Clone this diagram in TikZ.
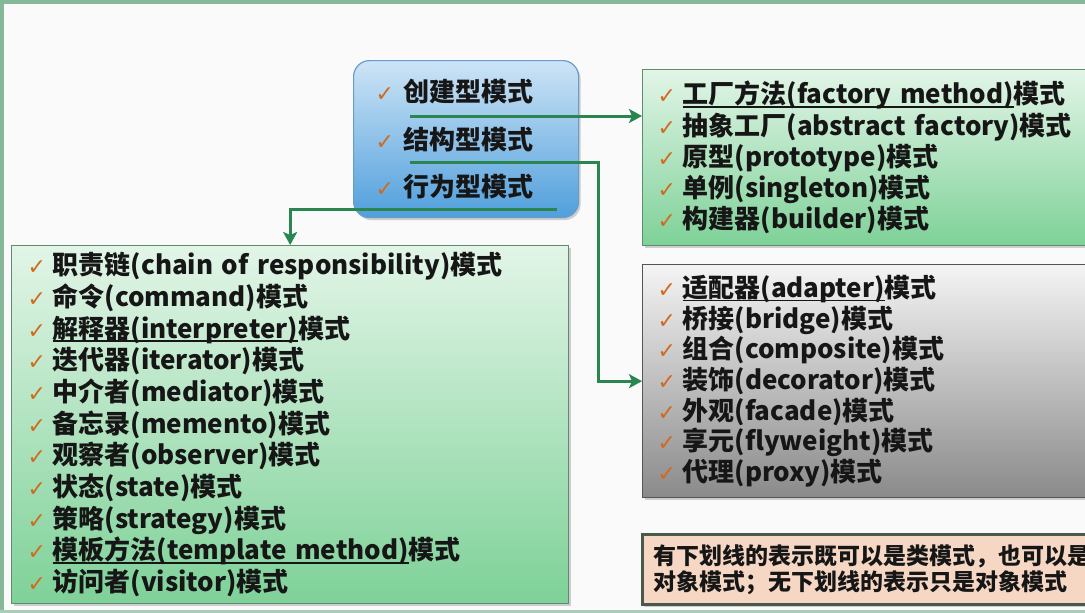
\documentclass[tikz,border=0pt]{standalone}
\usepackage{fontspec}
\usetikzlibrary{arrows.meta,shadows}
\newfontfamily\cjk{Noto Sans CJK SC}
\newfontfamily\dejavu{DejaVu Sans}
\definecolor{bgc}{HTML}{FAFAFA}
\definecolor{frameg}{HTML}{85B898}
\definecolor{txtc}{HTML}{161616}
\definecolor{chkc}{HTML}{D2691E}
\definecolor{arrowc}{HTML}{2A8550}
\definecolor{bluetop}{HTML}{CDE4F6}
\definecolor{bluebot}{HTML}{509FDC}
\definecolor{blueline}{HTML}{6A9CCB}
\definecolor{greentop}{HTML}{E2F5E7}
\definecolor{greenbot}{HTML}{7ED198}
\definecolor{greenline}{HTML}{5E8C6E}
\definecolor{graytop}{HTML}{F4F4F4}
\definecolor{graybot}{HTML}{8A8A8A}
\definecolor{grayline}{HTML}{555555}
\definecolor{notefill}{HTML}{F6D7C4}
\definecolor{noteline}{HTML}{4A5A4A}
\newcommand\chk[1][25pt]{\makebox[#1][l]{\dejavu\mdseries\fontsize{22}{22}\selectfont\textcolor{chkc}{✓}}}
\newcommand\myul[1]{\setbox0\hbox{#1}\rlap{\rule[-3.8pt]{\wd0}{1.4pt}}\box0}
\begin{document}
\begin{tikzpicture}[x=1pt,y=-1pt,
  boxbase/.style={anchor=north west, align=left, text=txtc, inner ysep=0pt,
    drop shadow={shadow xshift=2pt, shadow yshift=-2.5pt, opacity=0.3, fill=black!60}},
  bluebox/.style={boxbase, rounded corners=16pt, draw=blueline, line width=1.2pt,
    top color=bluetop, bottom color=bluebot, inner xsep=22pt,
    font={\cjk\bfseries\fontsize{26}{47.5}\selectfont}},
  greenbox/.style={boxbase, draw=greenline, line width=1.3pt,
    top color=greentop, bottom color=greenbot, inner xsep=15pt,
    font={\cjk\bfseries\fontsize{26}{31.3}\selectfont}},
  graybox/.style={boxbase, draw=grayline, line width=1.3pt,
    top color=graytop, bottom color=graybot, inner xsep=15pt,
    font={\cjk\bfseries\fontsize{26}{30.7}\selectfont}},
  notebox/.style={boxbase, draw=noteline, line width=2.5pt, fill=notefill,
    inner xsep=11pt, font={\cjk\bfseries\fontsize{23}{26}\selectfont}},
  conn/.style={draw=arrowc, line width=3pt, -{Stealth[length=13pt,width=14pt,inset=3pt]}}
]
\clip (0,0) rectangle (1085,613);
\fill[bgc] (0,0) rectangle (1085,613);
\fill[frameg] (0,0) rectangle (1085,3.5);
\fill[frameg] (0,0) rectangle (3.5,613);
\fill[frameg!70] (0,610) rectangle (1085,613);

% category box
\node[bluebox, minimum width=225pt, minimum height=157pt, text width=181pt] (kinds) at (353,60)
  {\mbox{\chk[28pt]创建型模式}\\\mbox{\chk[28pt]结构型模式}\\\mbox{\chk[28pt]行为型模式}};

% creational
\node[greenbox, minimum height=176pt, text width=440pt] (create) at (642,69)
  {\mbox{\chk\myul{工厂方法(factory method)}模式}\\
   \mbox{\chk 抽象工厂(abstract factory)模式}\\
   \mbox{\chk 原型(prototype)模式}\\
   \mbox{\chk 单例(singleton)模式}\\
   \mbox{\chk 构建器(builder)模式}};

% structural
\node[graybox, minimum height=233pt, text width=440pt] (struct) at (642,264)
  {\mbox{\chk\myul{适配器(adapter)}模式}\\
   \mbox{\chk 桥接(bridge)模式}\\
   \mbox{\chk 组合(composite)模式}\\
   \mbox{\chk 装饰(decorator)模式}\\
   \mbox{\chk 外观(facade)模式}\\
   \mbox{\chk 享元(flyweight)模式}\\
   \mbox{\chk 代理(proxy)模式}};

% behavioural
\node[greenbox, font={\cjk\bfseries\fontsize{26}{31.7}\selectfont}, minimum height=358pt, text width=525pt, inner xsep=16pt] (behav) at (11,245)
  {\mbox{\chk 职责链(chain of responsibility)模式}\\
   \mbox{\chk 命令(command)模式}\\
   \mbox{\chk\myul{解释器(interpreter)}模式}\\
   \mbox{\chk 迭代器(iterator)模式}\\
   \mbox{\chk 中介者(mediator)模式}\\
   \mbox{\chk 备忘录(memento)模式}\\
   \mbox{\chk 观察者(observer)模式}\\
   \mbox{\chk 状态(state)模式}\\
   \mbox{\chk 策略(strategy)模式}\\
   \mbox{\chk\myul{模板方法(template method)}模式}\\
   \mbox{\chk 访问者(visitor)模式}};

% note
\node[notebox, minimum height=70pt, text width=460pt] (note) at (641,533)
  {\mbox{有下划线的表示既可以是类模式，也可以是}\\\mbox{对象模式；无下划线的表示只是对象模式}};

% connectors
\coordinate (s1) at (410,116);
\coordinate (s2) at (410,162);
\coordinate (b2) at (598,162);
\coordinate (s3) at (557,209);
\draw[conn] (s1) -- (s1 -| create.west);
\draw[conn] (s2) -- (b2) |- (struct.west);
\draw[conn] (s3) -| (behav.north);
\end{tikzpicture}
\end{document}
